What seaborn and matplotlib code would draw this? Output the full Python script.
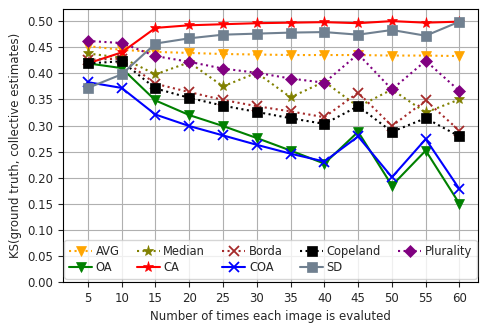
import matplotlib
matplotlib.use("Agg")
import matplotlib.pyplot as plt
import seaborn as sns
import pandas as pd

# Number of times each image is evaluated
n_evals = [5, 10, 15, 20, 25, 30, 35, 40, 45, 50, 55, 60]

# KS distance between ground truth and each collective estimate
avg = [0.452, 0.445, 0.441, 0.439, 0.437, 0.436, 0.435, 0.435, 0.435, 0.434, 0.434, 0.433]
oa = [0.419, 0.410, 0.348, 0.320, 0.299, 0.276, 0.252, 0.227, 0.288, 0.185, 0.252, 0.150]
median = [0.438, 0.430, 0.398, 0.421, 0.375, 0.401, 0.354, 0.384, 0.336, 0.369, 0.325, 0.350]
ca = [0.419, 0.440, 0.487, 0.492, 0.494, 0.496, 0.497, 0.498, 0.496, 0.500, 0.497, 0.499]
borda = [0.426, 0.428, 0.380, 0.364, 0.349, 0.337, 0.327, 0.316, 0.363, 0.299, 0.348, 0.290]
coa = [0.383, 0.372, 0.321, 0.299, 0.281, 0.263, 0.246, 0.231, 0.279, 0.201, 0.274, 0.178]
copeland = [0.419, 0.423, 0.371, 0.353, 0.338, 0.326, 0.314, 0.303, 0.337, 0.288, 0.314, 0.279]
sd = [0.372, 0.398, 0.457, 0.467, 0.474, 0.476, 0.478, 0.479, 0.474, 0.483, 0.472, 0.499]
plurality = [0.462, 0.458, 0.433, 0.422, 0.409, 0.401, 0.390, 0.382, 0.437, 0.369, 0.424, 0.366]

x_ticks = [5, 10, 15, 20, 25, 30, 35, 40, 45, 50, 55, 60]
y_ticks = [0.00, 0.05, 0.10, 0.15, 0.20, 0.25, 0.30, 0.35, 0.40, 0.45, 0.50]

sns.set_style("ticks")
plt.rcParams["font.family"] = ["DejaVu Sans"]

# (name, values, colour, marker, linestyle) in drawing / legend order
series = [
    ("AVG", avg, "orange", "v", ":"),
    ("OA", oa, "green", "v", "-"),
    ("Median", median, "olive", "*", ":"),
    ("CA", ca, "red", "*", "-"),
    ("Borda", borda, "brown", "x", ":"),
    ("COA", coa, "blue", "x", "-"),
    ("Copeland", copeland, "black", "s", ":"),
    ("SD", sd, "slategrey", "s", "-"),
    ("Plurality", plurality, "purple", "D", ":"),
]

fig, ax = plt.subplots(figsize=(4.8, 3.25), dpi=100)
fig.subplots_adjust(left=0.131, right=0.996, top=0.972, bottom=0.132)

for name, vals, color, marker, ls in series:
    df = pd.DataFrame({"n": n_evals, "ks": vals})
    size = {"D": 6, "s": 6.5, "*": 8, "x": 7, "v": 7}[marker]
    sns.lineplot(data=df, x="n", y="ks", ax=ax, color=color, marker=marker,
                 linestyle=ls, linewidth=1.5, markersize=size,
                 markeredgecolor=color, markeredgewidth=1.3 if marker == "x" else 0.5,
                 label=name)

ax.set_xlim(1.3, 62.75)
ax.set_ylim(0, 0.523)
ax.set_xticks(x_ticks)
ax.set_yticks(y_ticks)
ax.set_yticklabels([f"{v:.2f}" for v in y_ticks])
ax.tick_params(labelsize=8.5)
ax.grid(True, color="#b0b0b0", linewidth=0.8)
ax.set_axisbelow(True)
for s in ax.spines.values():
    s.set_color("black")
    s.set_linewidth(0.8)

ax.set_xlabel("Number of times each image is evaluted", fontsize=8.5)
ax.set_ylabel("KS(ground truth, collective estimates)", fontsize=8.5)

ax.legend(loc="lower center", ncol=5, fontsize=8.3, columnspacing=1.5,
          handletextpad=0.3, labelspacing=0.3, borderaxespad=0.3, framealpha=0.8)

fig.savefig("out.png", dpi=100)
